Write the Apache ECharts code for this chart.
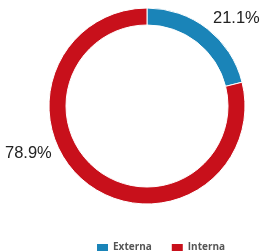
<!DOCTYPE html>
<html>
<head>
<meta charset="utf-8">
<script src="https://cdn.jsdelivr.net/npm/echarts@6/dist/echarts.min.js"></script>
<style>
html,body{margin:0;padding:0;background:#fff;}
#chart{width:264px;height:252px;}
</style>
</head>
<body>
<div id="chart"></div>
<script>
// data
var categories = ['Externa', 'Interna'];
var values = [21.1, 78.9];
var colors = ['#1a84b8', '#c8101b'];

var pieData = categories.map(function (c, i) {
    return { name: c, value: values[i], itemStyle: { color: colors[i] } };
});

var myChart = echarts.init(document.getElementById('chart'));
myChart.setOption({
    animation: false,
    legend: {
        top: 237,
        left: 90,
        icon: 'rect',
        itemWidth: 13,
        itemHeight: 9,
        itemGap: 18,
        textStyle: { fontFamily: 'Open Sans', fontSize: 10, fontWeight: 'bold', color: '#555', padding: [0, 0, 0, -1] },
        data: categories
    },
    series: [{
        type: 'pie',
        center: [147, 106],
        radius: [81, 98],
        startAngle: 90,
        clockwise: true,
        itemStyle: { borderColor: '#fff', borderWidth: 1 },
        label: {
            show: true,
            position: 'outside',
            formatter: function (p) { return p.value.toFixed(1) + '%'; },
            fontFamily: 'Liberation Sans',
            fontSize: 16.5,
            color: '#222',
            overflow: 'none'
        },
        labelLine: { show: false },
        labelLayout: function (p) {
            if (p.dataIndex === 0) return { x: 213, y: 18, align: 'left', verticalAlign: 'middle', hideOverlap: false };
            return { x: 5, y: 153, align: 'left', verticalAlign: 'middle', hideOverlap: false };
        },
        data: pieData
    }]
});
</script>
</body>
</html>
